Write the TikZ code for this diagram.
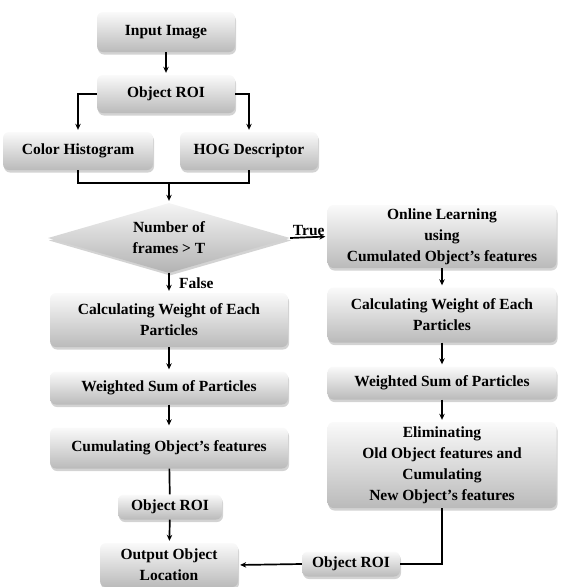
\documentclass[tikz,border=0pt]{standalone}
\usepackage{fontspec}
\setmainfont{Liberation Serif}
\usetikzlibrary{shapes.geometric, shadows, arrows.meta}

\begin{document}
\begin{tikzpicture}[x=1pt, y=1pt, >={Stealth[length=6pt, width=5.5pt]}, align=center, font=\fontsize{15.5}{21}\selectfont\bfseries]

    % Styles
    \tikzstyle{stage} = [rectangle, rounded corners=6pt, top color=black!2, bottom color=black!27, drop shadow={shadow xshift=1pt, shadow yshift=-2.5pt, opacity=0.35}, text centered, inner sep=2pt]
    \tikzstyle{decision} = [diamond, aspect=3.4, inner sep=0pt, top color=black!4, bottom color=black!30, drop shadow={shadow xshift=1pt, shadow yshift=-2.5pt, opacity=0.35}, minimum width=242pt, minimum height=70pt]
    \tikzstyle{arrow} = [->, shorten >=2pt, line width=1.7pt]
    \tikzstyle{link} = [line width=1.7pt]

    \useasboundingbox (0,0) rectangle (562,-587);

    % Input and features
    \node[stage, minimum width=138pt, minimum height=40pt] (input_image) at (166,-32) {Input Image};
    \node[stage, minimum width=138pt, minimum height=38pt] (object_roi) at (166,-94) {Object ROI};
    \node[stage, minimum width=150pt, minimum height=38pt] (color_hist) at (78,-151) {Color Histogram};
    \node[stage, minimum width=138pt, minimum height=38pt] (hog_desc) at (249,-151) {HOG Descriptor};
    \coordinate (merge) at (169,-183);

    % Decision
    \node[decision] (frame_check) at (169,-238) {Number of\\frames > T};

    % False branch
    \node[stage, minimum width=238pt, minimum height=54pt] (weight_false) at (169,-320) {Calculating Weight of Each\\Particles};
    \node[stage, minimum width=238pt, minimum height=33pt] (sum_false) at (169,-388) {Weighted Sum of Particles};
    \node[stage, minimum width=238pt, minimum height=41pt] (cum_false) at (169,-448) {Cumulating Object's features};
    \node[stage, minimum width=104pt, minimum height=25pt] (roi_false) at (170,-507) {Object ROI};
    \node[stage, minimum width=138pt, minimum height=44pt] (output_loc) at (169,-565) {Output Object\\Location};

    % True branch
    \node[stage, minimum width=229pt, minimum height=63pt] (online_learning) at (442,-236.5) {Online Learning\\using\\Cumulated Object's features};
    \node[stage, minimum width=229pt, minimum height=55pt] (weight_true) at (442,-315) {Calculating Weight of Each\\Particles};
    \node[stage, minimum width=229pt, minimum height=33pt] (sum_true) at (442,-383) {Weighted Sum of Particles};
    \node[stage, minimum width=229pt, minimum height=86pt] (eliminate_true) at (442,-465) {Eliminating\\Old Object features and\\Cumulating\\New Object's features};
    \node[stage, minimum width=98pt, minimum height=25pt] (roi_true) at (351,-564) {Object ROI};

    % Arrows
    \draw[arrow] (input_image) -- (object_roi);
    \draw[arrow] (object_roi.west) -| (color_hist.north);
    \draw[arrow] (object_roi.east) -| (hog_desc.north);
    \draw[link] (color_hist.south) |- (merge) -| (hog_desc.south);
    \draw[arrow] (merge) -- (frame_check.north);

    \draw[arrow] (frame_check.east) -- node[above, inner sep=1pt] {True} (online_learning.west);
    \draw[arrow] (frame_check.south) -- node[right, xshift=6pt] {False} (weight_false.north);

    \draw[arrow] (weight_false) -- (sum_false);
    \draw[arrow] (sum_false) -- (cum_false);
    \draw[link] (cum_false) -- (roi_false);
    \draw[arrow] (roi_false) -- (output_loc);

    \draw[arrow] (online_learning) -- (weight_true);
    \draw[arrow] (weight_true) -- (sum_true);
    \draw[arrow] (sum_true) -- (eliminate_true);
    \draw[link] (eliminate_true.south) |- (roi_true.east);
    \draw[arrow] (roi_true.west) -- (output_loc.east);

\end{tikzpicture}
\end{document}
